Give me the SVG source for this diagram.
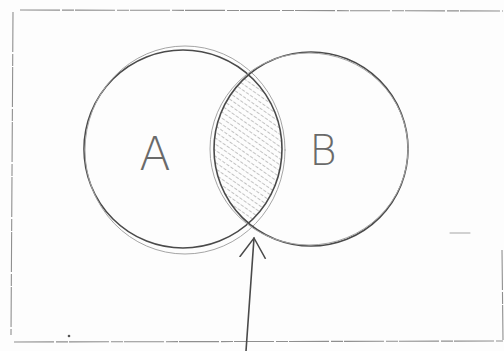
<svg xmlns="http://www.w3.org/2000/svg" width="504" height="351" viewBox="0 0 504 351">
<defs>
<style>
.ink{fill:none;stroke:#4a4a4a;stroke-width:1.6;stroke-linecap:round}
.faint{fill:none;stroke:#a5a5a5;stroke-width:1;stroke-linecap:round}
.frame{fill:none;stroke:#8f8f8f;stroke-width:1.1;stroke-dasharray:40 2 12 1}
.lbl{font-family:"DejaVu Sans","Liberation Sans",sans-serif;font-weight:200;fill:#6a6a6a;text-anchor:middle}
</style>
<pattern id="hatch" width="5" height="5" patternUnits="userSpaceOnUse" patternTransform="rotate(-55)">
<line x1="0" y1="0" x2="0" y2="5" stroke="#999999" stroke-width="1.2" stroke-dasharray="3 1.5"/>
</pattern>
<marker id="open" viewBox="0 0 22 28" refX="20" refY="14" markerWidth="22" markerHeight="28" markerUnits="userSpaceOnUse" orient="auto">
<path d="M0 1 L20 14 L0 27" fill="none" stroke="#4a4a4a" stroke-width="1.5"/>
</marker>
</defs>
<rect width="504" height="351" fill="#fdfdfd"/>
<g id="frame">
<path class="frame" d="M20 10 L503 11"/>
<path class="frame" d="M13 12 L11 335"/>
<path class="frame" d="M14 342 L503 341"/>
<path class="frame" d="M502 250 L503 340"/>
<path class="faint" d="M450 233 L470 233"/>
<circle cx="69" cy="336" r="1.3" fill="#555"/>
</g>
<g id="intersection">
<path d="M248.8 74.6 A97 97 0 0 0 248.8 223.4 A100 100 0 0 0 248.8 74.6 Z" fill="url(#hatch)" stroke="none"/>
</g>
<g id="node-A">
<circle class="ink" cx="183" cy="149" r="99"/>
<ellipse class="faint" cx="185" cy="150" rx="100" ry="104"/>
<text class="lbl" x="155" y="170" font-size="46">A</text>
</g>
<g id="node-B">
<circle class="ink" cx="311" cy="149" r="97"/>
<ellipse class="faint" cx="309" cy="149" rx="99" ry="96"/>
<text class="lbl" x="323" y="165" font-size="42">B</text>
</g>
<g id="connectors">
<path class="ink" d="M246 351 L254 238" marker-end="url(#open)"/>
</g>
</svg>
